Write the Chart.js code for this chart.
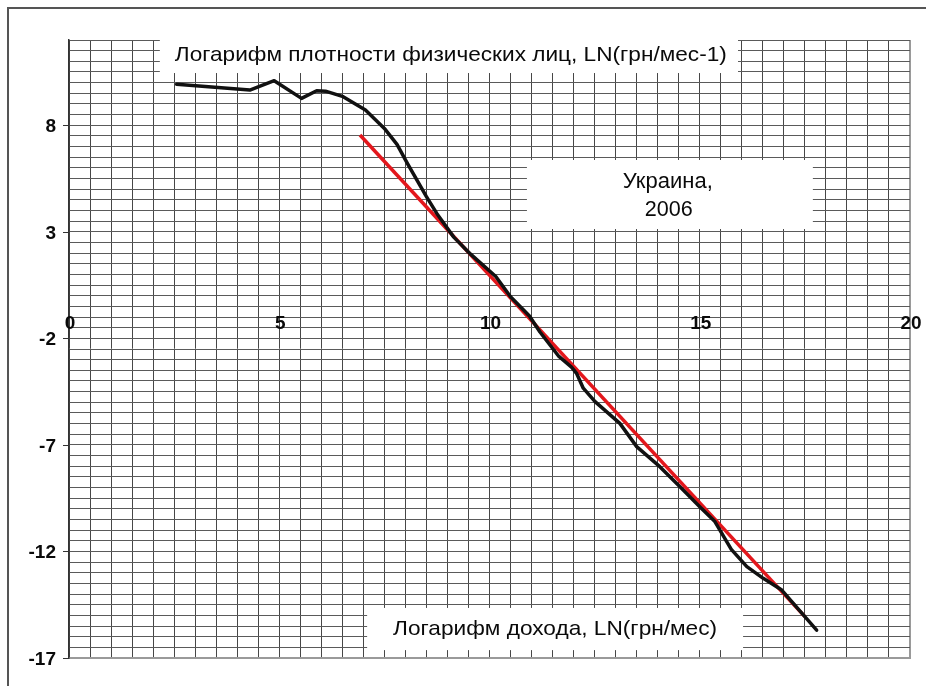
<!DOCTYPE html>
<html>
<head>
<meta charset="utf-8">
<script src="https://cdn.jsdelivr.net/npm/chart.js@4/dist/chart.umd.min.js"></script>
<style>
  html, body { margin: 0; padding: 0; background: #fff; }
  canvas { display: block; }
</style>
</head>
<body>
<canvas id="chart" width="926" height="686"></canvas>
<script>
// Украина 2006 — ln density vs ln income, black = empirical, red = linear fit
const xTickLabels = [0, 5, 10, 15, 20];
const yTickLabels = [-17, -12, -7, -2, 3, 8];

const incomeLn = [2.56, 4.30, 4.88, 5.53, 5.89, 6.10, 6.52, 7.05, 7.50, 7.80, 8.05, 8.50, 8.75, 9.15,
  9.55, 10.15, 10.50, 10.95, 11.20, 11.65, 11.95, 12.07, 12.23, 12.51, 13.10, 13.50, 14.05,
  14.53, 15.00, 15.36, 15.75, 16.12, 16.51, 16.95, 17.22, 17.50, 17.78];
const densityLn = [9.92, 9.65, 10.09, 9.26, 9.62, 9.60, 9.34, 8.72, 7.85, 7.10, 6.20, 4.65, 3.85, 2.75,
  1.95, 0.90, -0.05, -0.95, -1.70, -2.85, -3.35, -3.64, -4.34, -4.97, -5.99, -7.08, -8.02,
  -8.96, -9.90, -10.60, -11.90, -12.71, -13.26, -13.81, -14.43, -15.06, -15.69];

const fitIncome = [6.92, 17.50];
const fitDensity = [7.54, -15.06];

const xAxisCross = -2;

const pts = (xs, ys) => xs.map((x, i) => ({ x, y: ys[i] }));

// white label boxes (data units) and their text
const boxes = [
  { x0: 2.16, x1: 15.91, y0: 12, y1: 10.45,
    lines: [{ t: "Логарифм плотности физических лиц, LN(грн/мес-1)", x: 9.08, y: 11.30, w: 552, size: 21 }] },
  { x0: 10.89, x1: 17.69, y0: 6.37, y1: 3.13,
    lines: [{ t: "Украина,", x: 14.24, y: 5.34, w: 90, size: 22 },
            { t: "2006", x: 14.26, y: 4.02, w: 48, size: 22 }] },
  { x0: 7.09, x1: 16.03, y0: -14.65, y1: -16.63,
    lines: [{ t: "Логарифм дохода, LN(грн/мес)", x: 11.56, y: -15.64, w: 324, size: 21 }] }
];

function stretchText(ctx, t, cx, cy, w) {
  const m = ctx.measureText(t).width;
  ctx.save();
  ctx.translate(cx, cy);
  ctx.scale(w / m, 1);
  ctx.fillText(t, 0, 0);
  ctx.restore();
}

const decor = {
  id: "decor",
  beforeDatasetsDraw(chart) {
    const { ctx, scales: { x, y } } = chart;
    ctx.save();
    ctx.textAlign = "center";
    ctx.textBaseline = "middle";
    boxes.forEach(b => {
      const l = x.getPixelForValue(b.x0), r = x.getPixelForValue(b.x1);
      const t = y.getPixelForValue(b.y0), bt = y.getPixelForValue(b.y1);
      ctx.fillStyle = "#fff";
      ctx.fillRect(l, t, r - l, bt - t);
      ctx.fillStyle = "#0a0a0a";
      b.lines.forEach(ln => {
        ctx.font = ln.size + 'px "Liberation Sans", Arial, sans-serif';
        stretchText(ctx, ln.t, x.getPixelForValue(ln.x), y.getPixelForValue(ln.y), ln.w);
      });
    });
    ctx.restore();
  },
  afterDraw(chart) {
    const { ctx, chartArea: a, scales: { x, y } } = chart;
    ctx.save();
    ctx.fillStyle = "#0a0a0a";
    ctx.strokeStyle = "#333";
    ctx.lineWidth = 1;
    ctx.font = 'bold 19px "Liberation Sans", Arial, sans-serif';
    ctx.textAlign = "right";
    ctx.textBaseline = "middle";
    yTickLabels.forEach(v => {
      const py = Math.round(y.getPixelForValue(v)) + 0.5;
      ctx.beginPath();
      ctx.moveTo(a.left - 6, py);
      ctx.lineTo(a.left, py);
      ctx.stroke();
      ctx.fillText(String(v), a.left - 13, py + 1);
    });
    ctx.textAlign = "center";
    const ly = y.getPixelForValue(xAxisCross) - 15;
    xTickLabels.forEach(v => {
      ctx.fillText(String(v), x.getPixelForValue(v) + 1, ly);
    });
    // outer frame
    ctx.strokeStyle = "#555";
    ctx.lineWidth = 2;
    ctx.beginPath();
    ctx.moveTo(8, 690);
    ctx.lineTo(8, 8);
    ctx.lineTo(930, 8);
    ctx.stroke();
    ctx.restore();
  }
};

new Chart(document.getElementById("chart"), {
  type: "scatter",
  data: {
    datasets: [
      { label: "эмпирика", data: pts(incomeLn, densityLn), showLine: true,
        borderColor: "#111", borderWidth: 3.5, pointRadius: 0, tension: 0, fill: false,
        borderJoinStyle: "round", borderCapStyle: "round" },
      { label: "тренд", data: pts(fitIncome, fitDensity), showLine: true,
        borderColor: "#e3171c", borderWidth: 3.5, pointRadius: 0, tension: 0, fill: false }
    ]
  },
  options: {
    responsive: false,
    animation: false,
    devicePixelRatio: 1,
    layout: { padding: { left: 69, top: 40, right: 16, bottom: 28 } },
    plugins: { legend: { display: false }, tooltip: { enabled: false } },
    scales: {
      x: {
        type: "linear", min: 0, max: 20,
        ticks: { stepSize: 0.5, display: false },
        grid: {
          drawTicks: false,
          color: c => (c.tick && c.tick.value === 20) ? "#9a9a9a" : "#474747",
          lineWidth: c => (c.tick && c.tick.value === 20) ? 2 : 1
        },
        border: { display: true, color: "#9a9a9a", width: 2 }
      },
      y: {
        type: "linear", min: -17, max: 12,
        ticks: { stepSize: 0.5, display: false },
        grid: { drawTicks: false, color: "#5a5a5a", lineWidth: 1 },
        border: { display: true, color: "#333", width: 1.5 }
      }
    }
  },
  plugins: [decor]
});
</script>
</body>
</html>
